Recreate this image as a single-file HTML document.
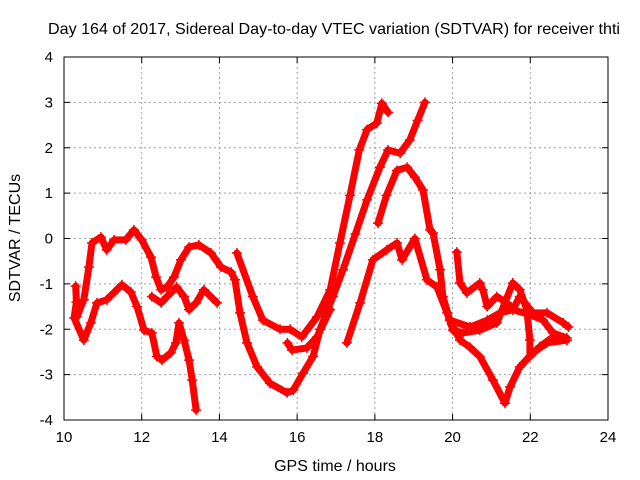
<!DOCTYPE html>
<html><head><meta charset="utf-8"><style>
body{margin:0;background:#fff;}
svg{display:block;font-family:"Liberation Sans",sans-serif;}
</style></head><body>
<svg id="chart" width="640" height="480" viewBox="0 0 640 480">
<rect x="0" y="0" width="640" height="480" fill="#fff"/>
<text x="334" y="34" font-size="16" text-anchor="middle" fill="#000" textLength="572" lengthAdjust="spacingAndGlyphs">Day 164 of 2017, Sidereal Day-to-day VTEC variation (SDTVAR) for receiver thti</text>
<text x="0" y="0" transform="translate(20,238) rotate(-90)" font-size="16" text-anchor="middle" fill="#000">SDTVAR / TECUs</text>
<text x="335" y="471" font-size="16" text-anchor="middle" fill="#000">GPS time / hours</text>
<g id="grid"></g>
<g id="series"></g>
<g id="axes"></g>
</svg>
<script>
const xTicks=[10,12,14,16,18,20,22,24];
const yTicks=[-4,-3,-2,-1,0,1,2,3,4];
const s1x=[10.33,10.51,10.64,10.72,10.95,11.1,11.29,11.59,11.8,12.0,12.24,12.37,12.5,12.65,12.83,13.01,13.22,13.47,13.78,14.04,14.3,14.4,14.53,14.71,14.97,15.3,15.74,15.9,16.15,16.41,16.59,16.92,17.18,17.5,17.8,18.13,18.34,18.65,18.9,19.1,19.29];
const s1y=[-1.73,-1.35,-0.63,-0.1,0.03,-0.25,-0.03,-0.03,0.19,-0.03,-0.41,-0.85,-1.13,-1.07,-0.85,-0.47,-0.19,-0.14,-0.32,-0.63,-0.74,-0.91,-1.64,-2.3,-2.83,-3.19,-3.4,-3.34,-2.97,-2.6,-2.0,-1.28,-0.69,0.1,0.85,1.57,1.95,1.88,2.17,2.6,3.0];
const s2x=[10.3,10.32,10.26,10.51,10.69,10.85,11.1,11.49,11.72,11.88,12.06,12.26,12.39,12.52,12.75,12.88,12.96,13.09,13.22,13.3,13.4];
const s2y=[-1.05,-1.4,-1.75,-2.24,-1.86,-1.42,-1.35,-1.02,-1.18,-1.5,-2.02,-2.08,-2.6,-2.68,-2.52,-2.3,-1.86,-2.24,-2.68,-3.12,-3.78];
const s3x=[12.26,12.5,12.65,12.9,13.09,13.22,13.4,13.6,13.94];
const s3y=[-1.28,-1.42,-1.28,-1.07,-1.28,-1.57,-1.42,-1.13,-1.42];
const s4x=[14.45,14.86,15.12,15.56,15.82,16.12,16.51,16.85,17.1,17.36,17.6,17.8,18.05,18.18,18.34];
const s4y=[-0.32,-1.28,-1.8,-2.0,-2.0,-2.17,-1.73,-1.13,-0.1,0.95,1.95,2.4,2.54,2.98,2.78];
const s5x=[15.75,15.87,16.25,16.51,16.85];
const s5y=[-2.3,-2.46,-2.41,-2.17,-1.57];
const s6x=[18.08,18.3,18.57,18.83,19.03,19.24,19.42,19.5,19.68,19.75,19.93,19.99,20.19,20.45,20.7,21.04,21.35,21.48,21.73,22.07,22.43,22.94];
const s6y=[0.34,0.95,1.5,1.57,1.35,1.07,0.19,0.12,-0.69,-1.28,-1.8,-1.9,-2.24,-2.4,-2.6,-3.12,-3.63,-3.27,-2.83,-2.52,-2.3,-2.24];
const s7x=[17.28,17.62,17.95,18.31,18.57,18.7,19.03,19.34,19.6,19.86,20.01,20.27,20.7,21.14,21.55,21.73,21.91,21.99,21.99,22.25,22.58,22.94];
const s7y=[-2.3,-1.42,-0.47,-0.25,-0.1,-0.47,0.0,-0.91,-1.07,-1.64,-2.02,-2.08,-2.02,-1.86,-0.98,-1.13,-1.57,-2.24,-2.6,-2.38,-2.17,-2.24];
const s8x=[20.11,20.19,20.37,20.7,20.78,20.89,21.14,21.4,21.55,21.73,22.07,22.43,22.85,22.98];
const s8y=[-0.3,-0.98,-1.2,-0.98,-1.13,-1.5,-1.28,-1.42,-1.57,-1.28,-1.64,-1.64,-1.86,-1.95];
const s9x=[19.93,20.45,20.89,21.22,21.55,21.99,22.33,22.58,22.94];
const s9y=[-1.8,-1.95,-1.8,-1.64,-1.57,-1.68,-1.8,-2.08,-2.19];

const L=64,R=608,T=57,B=420;
const xMin=10,xMax=24,yMin=-4,yMax=4;
function X(v){return L+(v-xMin)/(xMax-xMin)*(R-L);}
function Y(v){return B-(v-yMin)/(yMax-yMin)*(B-T);}
const NS="http://www.w3.org/2000/svg";
function mk(tag,attrs,parent){const e=document.createElementNS(NS,tag);for(const k in attrs)e.setAttribute(k,attrs[k]);parent.appendChild(e);return e;}
const grid=document.getElementById('grid'),axes=document.getElementById('axes'),ser=document.getElementById('series');
xTicks.forEach(t=>{
  if(t>xMin&&t<xMax){const g=mk('line',{x1:X(t),x2:X(t),y1:T,y2:B,stroke:'#a0a0a0','stroke-dasharray':'2,3','stroke-width':1},grid);
  
  }
  const a=mk('line',{x1:X(t),x2:X(t),y1:B,y2:B-6,stroke:'#000'},axes);
  
  
  const a2=mk('line',{x1:X(t),x2:X(t),y1:T,y2:T+6,stroke:'#000'},axes);
  
  
  const tx=mk('text',{x:X(t),y:B+22,'font-size':15,'text-anchor':'middle',fill:'#000'},axes);
  tx.textContent=t;
  
  
});
yTicks.forEach(t=>{
  if(t>yMin&&t<yMax){const g=mk('line',{x1:L,x2:R,y1:Y(t),y2:Y(t),stroke:'#a0a0a0','stroke-dasharray':'2,3','stroke-width':1},grid);
  
  }
  const a=mk('line',{x1:L,x2:L+6,y1:Y(t),y2:Y(t),stroke:'#000'},axes);
  
  
  const a2=mk('line',{x1:R,x2:R-6,y1:Y(t),y2:Y(t),stroke:'#000'},axes);
  
  
  const tx=mk('text',{x:L-11,y:Y(t)+5,'font-size':15,'text-anchor':'end',fill:'#000'},axes);
  tx.textContent=t;
  
  
});
const fr=mk('rect',{x:L,y:T,width:R-L,height:B-T,fill:'none',stroke:'#000','stroke-width':1},axes);


const all=[[s1x,s1y],[s2x,s2y],[s3x,s3y],[s4x,s4y],[s5x,s5y],[s6x,s6y],[s7x,s7y],[s8x,s8y],[s9x,s9y]];
all.forEach((s,i)=>{
  const g=mk('g',{},ser);
  
  
  const pts=s[0].map((x,j)=>X(x).toFixed(1)+','+Y(s[1][j]).toFixed(1)).join(' ');
  const pl=mk('polyline',{points:pts,fill:'none',stroke:'#ff0000','stroke-width':7,'stroke-linejoin':'round','stroke-linecap':'round'},g);
  
  
  s[0].forEach((x,j)=>{
    const px=X(x),py=Y(s[1][j]);
    const p=mk('path',{d:`M${px-5},${py}H${px+5}M${px},${py-5}V${py+5}`,stroke:'#ff0000','stroke-width':1.5},g);
    
    
  });
});
</script>
</body></html>
